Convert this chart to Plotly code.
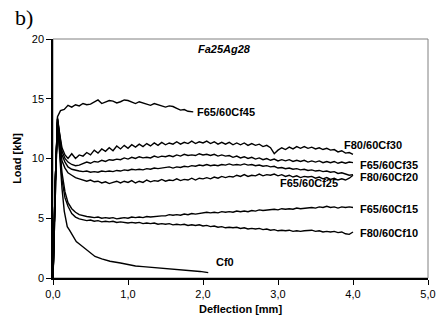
import plotly.graph_objects as go

# ---- data ----
x_cf45 = [0, 0.03, 0.06, 0.1, 0.15, 0.2, 0.25, 0.3, 0.35, 0.4, 0.45, 0.5, 0.55, 0.6, 0.65, 0.7, 0.75, 0.8, 0.85,
          0.9, 0.95, 1.0, 1.05, 1.1, 1.15, 1.2, 1.25, 1.3, 1.35, 1.4, 1.45, 1.5, 1.55, 1.6, 1.65, 1.7, 1.75, 1.8, 1.87]
y_cf45 = [0, 8.0, 13.5, 14.0, 14.1, 14.45, 14.3, 14.5, 14.4, 14.6, 14.5, 14.55, 14.7, 14.9, 14.6, 14.7, 14.85, 14.8, 14.65,
          14.75, 14.9, 14.85, 14.7, 14.6, 14.75, 14.65, 14.5, 14.45, 14.6, 14.5, 14.35, 14.3, 14.4, 14.35, 14.2, 14.05, 14.1, 13.95, 13.9]

x_main = [0, 0.03, 0.06, 0.09, 0.12, 0.16, 0.2, 0.25, 0.3, 0.35,
          0.4, 0.45, 0.5, 0.55, 0.6, 0.65, 0.7, 0.75, 0.8, 0.85,
          0.9, 0.95, 1.0, 1.05, 1.1, 1.15, 1.2, 1.25, 1.3, 1.35,
          1.4, 1.45, 1.5, 1.55, 1.6, 1.65, 1.7, 1.75, 1.8, 1.85,
          1.9, 1.95, 2.0, 2.05, 2.1, 2.15, 2.2, 2.25, 2.3, 2.35,
          2.4, 2.45, 2.5, 2.55, 2.6, 2.65, 2.7, 2.75, 2.8, 2.85,
          2.9, 2.95, 3.0, 3.05, 3.1, 3.15, 3.2, 3.25, 3.3, 3.35,
          3.4, 3.45, 3.5, 3.55, 3.6, 3.65, 3.7, 3.75, 3.8, 3.85,
          3.9, 3.95, 4.0]

y_cf30 = [0, 8.0, 13.4, 12.0, 10.9, 10.3, 10.0, 10.4, 10.0, 10.3,
          10.2, 10.5, 10.3, 10.7, 10.45, 10.8, 10.6, 10.9, 10.65, 11.05,
          10.8, 11.1, 10.85, 11.15, 10.95, 11.2, 11.0, 11.25, 11.05, 11.3,
          11.1, 11.35, 11.15, 11.3, 11.2, 11.4, 11.2, 11.35, 11.25, 11.45,
          11.25, 11.4, 11.3, 11.45, 11.25, 11.4, 11.2, 11.35, 11.2, 11.35,
          11.15, 11.3, 11.15, 11.3, 11.1, 11.25, 11.1, 11.2, 11.0, 11.1,
          10.9, 10.4, 10.7, 10.9, 10.75, 10.95, 10.8, 11.0, 10.85, 11.0,
          10.85, 10.95, 10.8, 10.9, 10.75, 10.85, 10.7, 10.75, 10.55, 10.65,
          10.45, 10.5, 10.35]
y_cf35 = [0, 8.0, 13.3, 11.8, 10.6, 10.0, 9.7, 9.5, 9.4, 9.45,
          9.55, 9.7, 9.6, 9.75, 9.7, 9.85, 9.75, 9.9, 9.85, 9.95,
          9.9, 10.05, 9.95, 10.1, 10.0, 10.15, 10.05, 10.1, 10.05, 10.2,
          10.1, 10.2, 10.15, 10.25, 10.15, 10.3, 10.2, 10.35, 10.25, 10.3,
          10.25, 10.4, 10.3, 10.35, 10.25, 10.35, 10.2, 10.3, 10.2, 10.25,
          10.1, 10.2, 10.05, 10.15, 10.0, 10.1, 9.95, 10.05, 9.9, 10.0,
          9.85, 9.95, 9.8, 9.9, 9.8, 9.9, 9.75, 9.85, 9.75, 9.85,
          9.7, 9.8, 9.7, 9.8, 9.65, 9.75, 9.65, 9.75, 9.6, 9.7,
          9.6, 9.7, 9.65]
y_cf20 = [0, 8.0, 13.3, 11.6, 10.3, 9.7, 9.3, 9.1, 9.0, 8.95,
          8.9, 8.95, 8.85, 8.9, 8.85, 8.95, 8.9, 8.95, 8.9, 9.0,
          8.95, 9.05, 9.0, 9.1, 9.05, 9.1, 9.05, 9.15, 9.1, 9.2,
          9.15, 9.2, 9.2, 9.3, 9.2, 9.3, 9.25, 9.35, 9.3, 9.4,
          9.35, 9.45, 9.4, 9.5, 9.4, 9.45, 9.4, 9.5, 9.45, 9.55,
          9.45, 9.5, 9.45, 9.55, 9.45, 9.5, 9.4, 9.45, 9.35, 9.4,
          9.3, 9.35, 9.2, 9.25, 9.15, 9.2, 9.1, 9.15, 9.05, 9.1,
          9.0, 9.05, 8.95, 9.0, 8.9, 8.95, 8.85, 8.9, 8.75, 8.8,
          8.7, 8.6, 8.65]
y_cf25 = [0, 8.0, 13.2, 11.2, 9.8, 9.2, 8.8, 8.6, 8.4, 8.3,
          8.2, 8.1, 8.2, 8.05, 8.1, 7.95, 8.05, 7.9, 8.0, 8.1,
          7.95, 8.1, 8.0, 8.15, 7.95, 8.1, 8.0, 8.2, 8.05, 8.15,
          8.1, 8.25, 8.1, 8.2, 8.15, 8.3, 8.15, 8.25, 8.2, 8.35,
          8.2, 8.35, 8.3, 8.4, 8.3, 8.45, 8.35, 8.5, 8.4, 8.5,
          8.45, 8.6, 8.5, 8.65, 8.5, 8.6, 8.55, 8.7, 8.55, 8.65,
          8.6, 8.7, 8.55, 8.65, 8.5, 8.6, 8.45, 8.55, 8.4, 8.5,
          8.45, 8.5, 8.35, 8.45, 8.3, 8.4, 8.25, 8.35, 8.2, 8.3,
          8.2, 8.35, 8.6]
y_cf15 = [0, 8.0, 13.0, 11.0, 8.8, 7.2, 6.3, 5.8, 5.5, 5.3,
          5.2, 5.15, 5.1, 5.05, 5.1, 5.0, 5.05, 5.0, 5.05, 4.95,
          5.0, 5.05, 5.0, 5.1, 5.05, 5.1, 5.05, 5.15, 5.1, 5.15,
          5.15, 5.2, 5.2, 5.3, 5.25, 5.3, 5.25, 5.35, 5.3, 5.4,
          5.35, 5.4, 5.4, 5.5, 5.45, 5.5, 5.45, 5.55, 5.5, 5.55,
          5.5, 5.6, 5.55, 5.6, 5.55, 5.65, 5.6, 5.7, 5.65, 5.7,
          5.7, 5.75, 5.7, 5.8, 5.75, 5.8, 5.75, 5.85, 5.8, 5.85,
          5.85, 5.9, 5.85, 5.95, 5.9, 6.0, 5.9, 5.95, 5.85, 5.95,
          5.9, 5.95, 5.9]
y_cf10 = [0, 8.0, 13.0, 10.5, 8.2, 6.7, 6.0, 5.4, 5.1, 4.95,
          4.85, 4.8, 4.85, 4.75, 4.8, 4.7, 4.75, 4.7, 4.75, 4.65,
          4.7, 4.65, 4.6, 4.65, 4.6, 4.65, 4.55, 4.6, 4.55, 4.6,
          4.5, 4.55, 4.5, 4.55, 4.45, 4.5, 4.45, 4.5, 4.4, 4.45,
          4.4, 4.45, 4.35, 4.4, 4.3, 4.35, 4.25, 4.3, 4.2, 4.25,
          4.2, 4.25, 4.15, 4.2, 4.1, 4.15, 4.1, 4.15, 4.05, 4.1,
          4.0, 4.05, 3.95, 4.0, 3.95, 4.0, 3.9, 3.95, 3.9, 3.95,
          3.95, 4.0, 3.9, 3.95, 3.85, 3.9, 3.85, 3.9, 3.8, 3.85,
          3.7, 3.65, 3.85]

x_cf0 = [0, 0.03, 0.06, 0.09, 0.12, 0.15, 0.19, 0.22, 0.26, 0.31, 0.36, 0.42, 0.5, 0.56, 0.65, 0.76, 0.9, 1.02,
         1.1, 1.2, 1.3, 1.42, 1.5, 1.6, 1.7, 1.8, 1.9, 1.96, 2.07]
y_cf0 = [0, 8.0, 13.0, 10.2, 7.5, 5.6, 4.3, 4.0, 3.6, 3.05, 2.8, 2.5, 2.1, 1.8, 1.6, 1.4, 1.25, 1.1,
         1.0, 0.95, 0.9, 0.83, 0.8, 0.75, 0.72, 0.65, 0.62, 0.55, 0.45]

series = [
    ("F65/60Cf45", x_cf45, y_cf45),
    ("F80/60Cf30", x_main, y_cf30),
    ("F65/60Cf35", x_main, y_cf35),
    ("F80/60Cf20", x_main, y_cf20),
    ("F65/60Cf25", x_main, y_cf25),
    ("F65/60Cf15", x_main, y_cf15),
    ("F80/60Cf10", x_main, y_cf10),
    ("Cf0", x_cf0, y_cf0),
]

# label anchor positions (data coords)
label_x = [1.89, 3.85, 4.06, 4.06, 3.0, 4.06, 4.06, 2.15]
label_y = [13.9, 11.1, 9.44, 8.47, 7.97, 5.77, 3.8, 1.3]

x_ticks = [0, 1, 2, 3, 4, 5]
x_tick_labels = ["0,0", "1,0", "2,0", "3,0", "4,0", "5,0"]
y_ticks = [0, 5, 10, 15, 20]

fig = go.Figure()
for name, xs, ys in series:
    assert len(xs) == len(ys), name
    fig.add_trace(go.Scatter(x=xs, y=ys, mode="lines", name=name,
                             line=dict(color="black", width=1.4), showlegend=False))

lab_font = dict(family="Liberation Sans, Arial", size=11, color="black")
for (name, _, _), lx, ly in zip(series, label_x, label_y):
    fig.add_annotation(x=lx, y=ly, text="<b>%s</b>" % name, showarrow=False,
                       xanchor="left", yanchor="middle", font=lab_font)

fig.add_annotation(x=2.29, y=19.2, text="<b><i>Fa25Ag28</i></b>", showarrow=False,
                   xanchor="center", yanchor="middle", font=lab_font)

fig.add_annotation(xref="x domain", yref="y domain", x=-0.107, y=1.09,
                   text="b)", showarrow=False, xanchor="left", yanchor="middle",
                   font=dict(family="Liberation Serif, Times New Roman", size=22, color="black"))

fig.add_shape(type="rect", xref="x domain", yref="y domain", x0=0, y0=0, x1=1, y1=1,
              line=dict(color="#808080", width=1), layer="below")

fig.update_layout(
    width=437, height=320,
    margin=dict(l=53, r=9, t=39, b=42, autoexpand=False),
    paper_bgcolor="white", plot_bgcolor="white",
    font=dict(family="Liberation Sans, Arial", size=11, color="black"),
    xaxis=dict(range=[0, 5], tickvals=x_ticks, ticktext=x_tick_labels, ticks="outside", ticklen=5,
               tickcolor="black", showline=True, linecolor="black", linewidth=1.5, showgrid=False,
               zeroline=False, tickfont=dict(size=11), automargin=False,
               title=dict(text="<b>Deflection [mm]</b>", font=dict(size=11), standoff=6)),
    yaxis=dict(range=[0, 20], tickvals=y_ticks, ticks="outside", ticklen=5,
               tickcolor="black", showline=True, linecolor="black", linewidth=1.5, showgrid=False,
               zeroline=False, tickfont=dict(size=11), automargin=False,
               title=dict(text="<b>Load [kN]</b>", font=dict(size=11), standoff=8)),
)

# remove the browser's default 8px body margin so the figure fills the window exactly
fig.write_html("out.html", config={"displayModeBar": False},
               post_script="document.body.style.margin='0';document.body.style.overflow='hidden';")
